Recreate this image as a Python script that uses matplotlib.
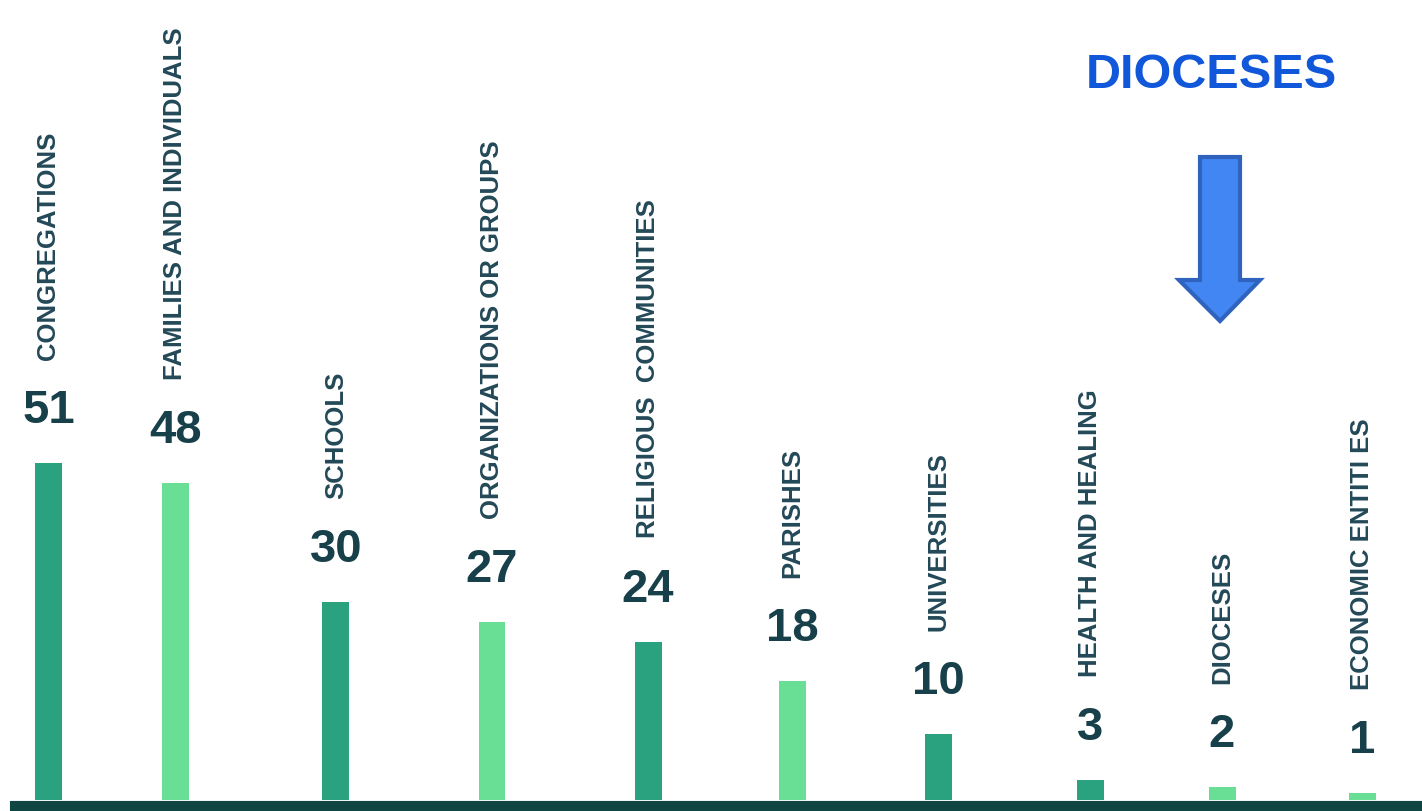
import matplotlib
matplotlib.use("Agg")
import matplotlib.pyplot as plt
from matplotlib.patches import Polygon

# data
categories = [
    "CONGREGATIONS", "FAMILIES AND INDIVIDUALS", "SCHOOLS",
    "ORGANIZATIONS OR GROUPS", "RELIGIOUS  COMMUNITIES", "PARISHES",
    "UNIVERSITIES", "HEALTH AND HEALING", "DIOCESES", "ECONOMIC ENTITI ES",
]
counts = [51, 48, 30, 27, 24, 18, 10, 3, 2, 1]
highlight = "DIOCESES"

# layout (x in units of 100 px, uneven spacing as in the original)
x_pos = [0.485, 1.755, 3.36, 4.92, 6.48, 7.92, 9.38, 10.9, 12.22, 13.62]
dark, light = "#2aa27f", "#69df96"
bar_colors = [dark, light, dark, light, dark, light, dark, dark, light, light]
text_color = "#17404a"
label_color = "#234857"

plt.rcParams["font.family"] = ["Liberation Sans", "DejaVu Sans"]

W, H = 1422, 812
fig = plt.figure(figsize=(W / 100, H / 100), dpi=100)
ax = fig.add_axes([0, 11 / H, 1, 1 - 11 / H])
ax.set_xlim(0, W / 100)
ax.set_ylim(0, 801 / 6.6)
ax.axis("off")

ax.bar(x_pos, counts, width=0.27, color=bar_colors, zorder=2)

for x, v, name in zip(x_pos, counts, categories):
    ax.annotate(str(v), (x, v), xytext=(0, 29.5), textcoords="offset points",
                ha="center", va="baseline", fontsize=34, fontweight="bold",
                color=text_color)
    ax.annotate(name, (x, v), xytext=(0, 75), textcoords="offset points",
                ha="center", va="bottom", rotation=90, fontsize=18.5,
                fontweight="bold", color=label_color)

# thick baseline
ax.axhline(-5.5 / 6.6, xmin=15 / W, xmax=1, color="#0f4542", lw=8,
           clip_on=False, zorder=3)

# highlight title + arrow
fig.text(1211 / W, 1 - 75 / H, highlight, ha="center", va="center",
         fontsize=35, fontweight="bold", color="#1157d9")
arrow = [(1200, 158), (1240, 158), (1240, 281), (1260, 281), (1220, 322),
         (1179, 281), (1200, 281)]
arrow = [(px / W, 1 - py / H) for px, py in arrow]
fig.patches.append(Polygon(arrow, closed=True, transform=fig.transFigure,
                           facecolor="#4286f4", edgecolor="#2f63bd", lw=3,
                           joinstyle="miter"))

fig.savefig("out.png", dpi=100)
